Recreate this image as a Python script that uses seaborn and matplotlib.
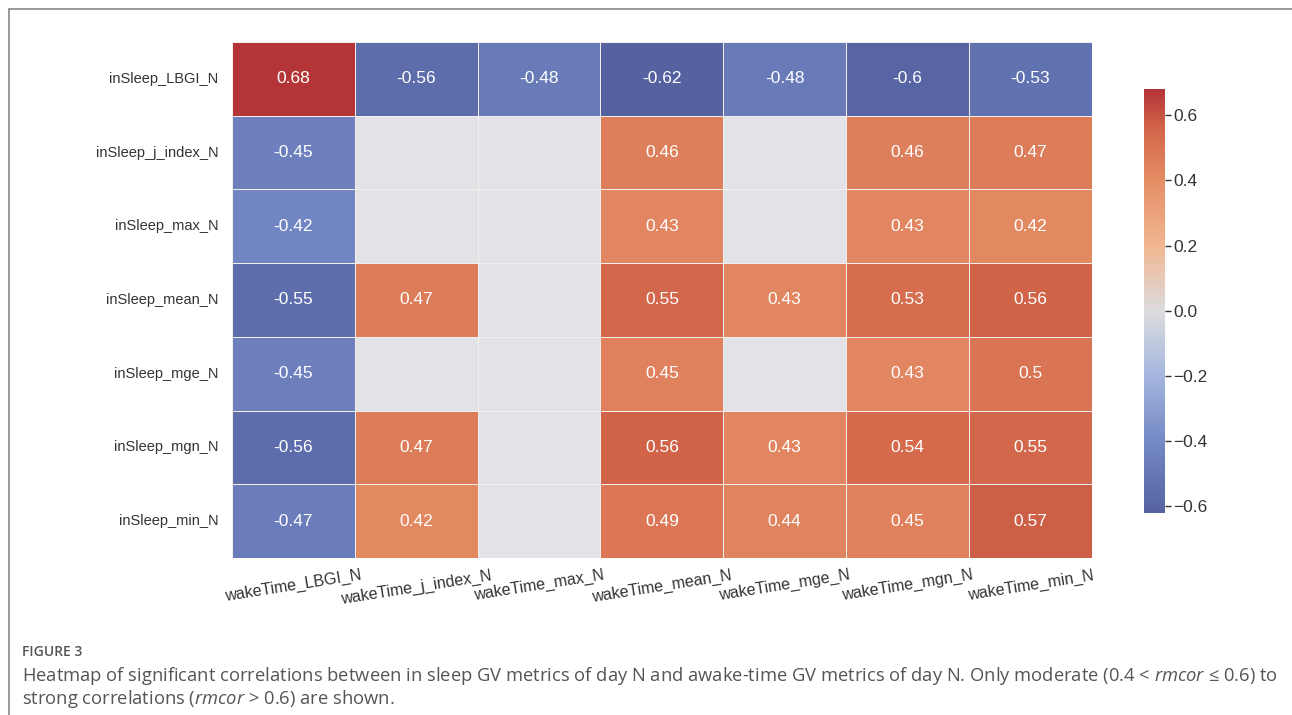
import numpy as np
import pandas as pd
import matplotlib
matplotlib.use("Agg")
import matplotlib.pyplot as plt
from matplotlib.colors import LinearSegmentedColormap
from matplotlib.lines import Line2D
import seaborn as sns

sns.set_theme(style="white")
plt.rcParams["font.family"] = ["Liberation Sans", "DejaVu Sans"]
plt.rcParams["mathtext.fontset"] = "custom"
plt.rcParams["mathtext.it"] = "Open Sans:italic"
plt.rcParams["mathtext.rm"] = "Open Sans"

# Row / column metric names
in_sleep = ["inSleep_LBGI_N", "inSleep_j_index_N", "inSleep_max_N", "inSleep_mean_N",
            "inSleep_mge_N", "inSleep_mgn_N", "inSleep_min_N"]
wake_time = ["wakeTime_LBGI_N", "wakeTime_j_index_N", "wakeTime_max_N", "wakeTime_mean_N",
             "wakeTime_mge_N", "wakeTime_mgn_N", "wakeTime_min_N"]

# Significant repeated-measures correlations (NaN = not significant / not shown)
nan = np.nan
r_LBGI   = [0.68, -0.56, -0.48, -0.62, -0.48, -0.60, -0.53]
r_jindex = [-0.45, nan, nan, 0.46, nan, 0.46, 0.47]
r_max    = [-0.42, nan, nan, 0.43, nan, 0.43, 0.42]
r_mean   = [-0.55, 0.47, nan, 0.55, 0.43, 0.53, 0.56]
r_mge    = [-0.45, nan, nan, 0.45, nan, 0.43, 0.50]
r_mgn    = [-0.56, 0.47, nan, 0.56, 0.43, 0.54, 0.55]
r_min    = [-0.47, 0.42, nan, 0.49, 0.44, 0.45, 0.57]

corr = pd.DataFrame([r_LBGI, r_jindex, r_max, r_mean, r_mge, r_mgn, r_min],
                    index=in_sleep, columns=wake_time)

vmin, vmax = np.nanmin(corr.values), np.nanmax(corr.values)
norm = plt.Normalize(vmin, vmax)

def pos(v):
    return float(norm(v))

# Muted blue-gray-red diverging palette, anchored at correlation values
cmap = LinearSegmentedColormap.from_list(
    "muted_coolwarm",
    [(0.0, "#55629f"), (pos(-0.6), "#5866a5"), (pos(-0.4), "#7489c5"),
     (pos(-0.2), "#a5b6df"), (pos(0.0), "#dcdcdd"), (pos(0.2), "#f1b690"),
     (pos(0.4), "#e58e66"), (pos(0.55), "#d4684b"), (1.0, "#b43537")])

fig = plt.figure(figsize=(12.92, 7.15), dpi=100)
ax = fig.add_axes([0.1796, 0.2196, 0.845 - 0.1796, 0.9413 - 0.2196])
cax = fig.add_axes([0.8854, 0.2825, 0.0163, 0.8755 - 0.2825])

# cells without a significant correlation carry a neutral light gray
ax.set_facecolor("#e3e3e7")

sns.heatmap(corr, ax=ax, cbar_ax=cax, cmap=cmap, vmin=vmin, vmax=vmax,
            annot=True, fmt=".2g", linewidths=0.6, linecolor="#f3efec",
            annot_kws={"color": "white", "fontsize": 12.5})

ax.tick_params(axis="both", length=0, pad=10, colors="#333333")
ax.set_yticklabels(in_sleep, rotation=0, fontsize=10.5, color="#333333")
ax.set_xticklabels(wake_time, rotation=9, ha="center", fontsize=11.5, color="#333333")
ax.tick_params(axis="x", pad=7)
ax.set_xlabel("")
ax.set_ylabel("")

cax.set_yticks([-0.6, -0.4, -0.2, 0.0, 0.2, 0.4, 0.6])
cax.tick_params(length=4, width=1, colors="#333333", labelsize=12.5, pad=2)
for s in cax.spines.values():
    s.set_visible(False)

# open frame around the figure panel
frame_color = "#888888"
fig.add_artist(Line2D([9 / 1292, 1.0], [1 - 9 / 715] * 2, color=frame_color, lw=1.2,
                      transform=fig.transFigure))
fig.add_artist(Line2D([9 / 1292] * 2, [0.0, 1 - 9 / 715], color=frame_color, lw=1.2,
                      transform=fig.transFigure))

cap_color = "#555555"
cap_font = ["Open Sans", "DejaVu Sans"]
fig.text(22 / 1292, 1 - 652 / 715, "FIGURE 3", family=cap_font,
         fontweight="semibold", fontsize=10, color=cap_color, va="center")
fig.text(22 / 1292, 1 - 676 / 715,
         r"Heatmap of significant correlations between in sleep GV metrics of day N and "
         r"awake-time GV metrics of day N. Only moderate (0.4 < $\mathit{rmcor}$ ≤ 0.6) to",
         family=cap_font, fontsize=13.2, color=cap_color, va="center")
fig.text(22 / 1292, 1 - 699 / 715,
         r"strong correlations ($\mathit{rmcor}$ > 0.6) are shown.",
         family=cap_font, fontsize=13.2, color=cap_color, va="center")

fig.savefig("out.png", dpi=100)
